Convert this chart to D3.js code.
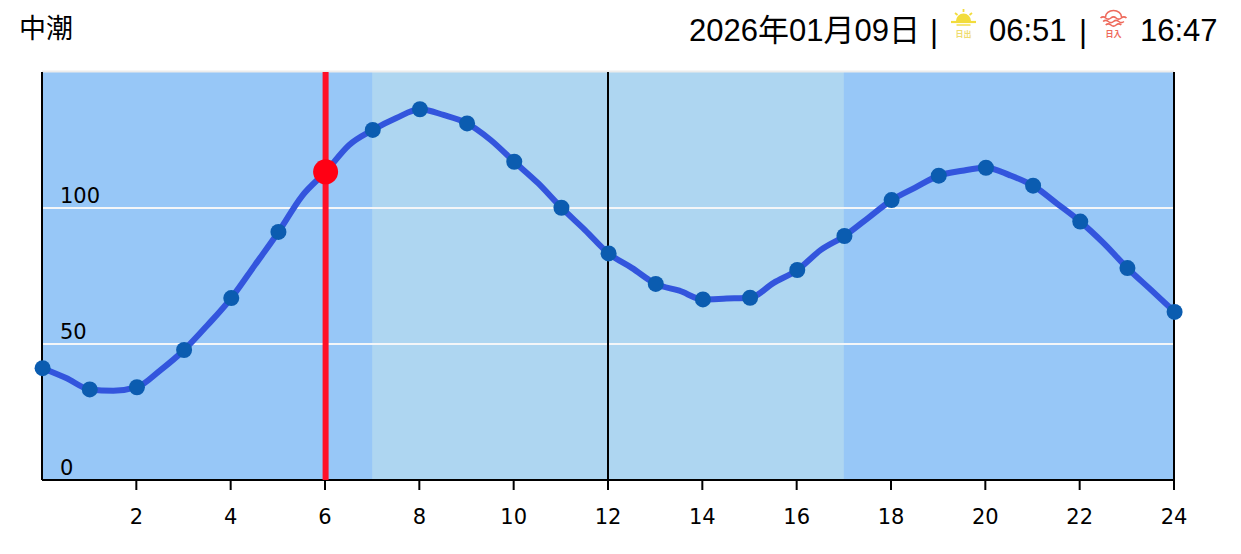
<!DOCTYPE html>
<html>
<head>
<meta charset="utf-8">
<script src="https://d3js.org/d3.v7.min.js"></script>
<style>
body { margin: 0; background: #fff; }
svg { display: block; }
.head { font-family: "Liberation Sans", "Noto Sans CJK JP", sans-serif; font-size: 31px; fill: #000; }
.tick text { font-family: "DejaVu Sans", sans-serif; font-size: 21px; fill: #000; }
</style>
</head>
<body>
<svg width="1241" height="554"></svg>
<script>
// half hour readings
var tideHours = [0,0.5,1,1.5,2,2.5,3,3.5,4,4.5,5,5.5,6,6.5,7,7.5,8,8.5,9,9.5,10,10.5,11,11.5,12,
  12.5,13,13.5,14,14.5,15,15.5,16,16.5,17,17.5,18,18.5,19,19.5,20,20.5,21,21.5,22,22.5,23,23.5,24];
var tideHeights = [41.1,37.5,33.3,32.8,34.1,40.4,47.8,57,66.9,79,91.2,104.4,113.3,123.2,128.7,133.1,136.3,134.2,131.1,125,117,109.2,100.1,91.9,83.3,
  77.9,72.1,69.6,66.4,66.7,67,72.5,77.2,84.6,89.7,96.3,102.9,107.5,111.9,113.7,114.8,112.1,108.2,101.7,95,87,77.9,69.9,61.8];
var xTicks = [2,4,6,8,10,12,14,16,18,20,22,24];
var yTicks = [0,50,100];
var dayStart = 7, dayEnd = 17;
var nowHour = 6, nowHeight = 113.3;
var tideName = "中潮";
var dateLabel = "2026年01月09日";
var sunrise = "06:51", sunset = "16:47";

var left = 42, right = 1174, top_ = 72, bottom = 480;
var svg = d3.select("svg");
var x = d3.scaleLinear().domain([0,24]).range([left,right]);
var y = d3.scaleLinear().domain([0,150]).range([bottom,top_]);

// background bands
svg.append("rect").attr("x",left).attr("y",top_).attr("width",right-left).attr("height",bottom-top_).attr("fill","#97c7f7");
svg.append("rect").attr("x",x(dayStart)).attr("y",top_).attr("width",x(dayEnd)-x(dayStart)).attr("height",bottom-top_).attr("fill","#aed6f1");
svg.append("line").attr("x1",left).attr("x2",right).attr("y1",top_-0.5).attr("y2",top_-0.5).attr("stroke","#ececec").attr("stroke-width",2);

// y grid, labels sit inside the plot above the line
var yAxis = svg.append("g").attr("transform","translate("+left+",0)")
  .call(d3.axisRight(y).tickValues(yTicks).tickSize(right-left).tickFormat(d3.format("d")).offset(0));
yAxis.select(".domain").remove();
yAxis.selectAll("line").attr("stroke","#f4f6f8").attr("stroke-width",2);
yAxis.selectAll("text").attr("x",18).attr("dy","-5px").attr("text-anchor","start");

// verticals
svg.selectAll(".vline").data([0,12,24]).enter().append("line").attr("class","vline")
  .attr("x1",function(d){return x(d);}).attr("x2",function(d){return x(d);})
  .attr("y1",top_).attr("y2",bottom).attr("stroke","#000").attr("stroke-width",2);

var xAxis = svg.append("g").attr("transform","translate(0,"+bottom+")")
  .call(d3.axisBottom(x).tickValues(xTicks).tickSize(10).tickSizeOuter(0).tickPadding(19).offset(0));
xAxis.select(".domain").attr("stroke","#000").attr("stroke-width",2);
xAxis.selectAll("line").attr("stroke","#000").attr("stroke-width",2);

var marks = svg.append("g").attr("transform","translate(0.6,0)");

// now marker line under tide
marks.append("line").attr("x1",x(nowHour)).attr("x2",x(nowHour)).attr("y1",top_).attr("y2",bottom)
  .attr("stroke","#ff1028").attr("stroke-width",6);

var line = d3.line().x(function(d,i){return x(tideHours[i]);}).y(function(d){return y(d);}).curve(d3.curveMonotoneX);
marks.append("path").datum(tideHeights).attr("d",line).attr("fill","none").attr("stroke","#3355dd").attr("stroke-width",6).attr("stroke-linejoin","round");

marks.selectAll(".dot").data(tideHeights.filter(function(d,i){return Number.isInteger(tideHours[i]);})).enter()
  .append("circle").attr("class","dot")
  .attr("cx",function(d,i){return x(i);}).attr("cy",function(d){return y(d);}).attr("r",8).attr("fill","#0b5cb0");

marks.append("circle").attr("cx",x(nowHour)).attr("cy",y(nowHeight)).attr("r",12.5).attr("fill","#ff0014");

// header
svg.append("text").attr("class","head").attr("x",19).attr("y",38).style("font-size","27px").text(tideName);
svg.append("text").attr("class","head").attr("x",689).attr("y",41).text(dateLabel);
svg.append("text").attr("class","head").attr("x",930).attr("y",42).text("|");
svg.append("text").attr("class","head").attr("x",989).attr("y",41).text(sunrise);
svg.append("text").attr("class","head").attr("x",1079).attr("y",42).text("|");
svg.append("text").attr("class","head").attr("x",1140).attr("y",41).text(sunset);

// sunrise icon
var sun = svg.append("g").attr("transform","translate(963.5,21)").attr("fill","#f2dc3c").attr("stroke","#f2dc3c");
sun.append("path").attr("stroke","none").attr("d",d3.arc()({innerRadius:0,outerRadius:7.5,startAngle:-Math.PI/2,endAngle:Math.PI/2}));
sun.append("line").attr("x1",-12.5).attr("x2",12.5).attr("y1",1).attr("y2",1).attr("stroke-width",2.2);
sun.append("line").attr("x1",-7).attr("x2",7).attr("y1",4).attr("y2",4).attr("stroke-width",1.4);
sun.append("line").attr("x1",0).attr("x2",0).attr("y1",-12).attr("y2",-9).attr("stroke-width",1.8);
sun.append("line").attr("x1",-8.5).attr("x2",-6).attr("y1",-8).attr("y2",-6).attr("stroke-width",1.8);
sun.append("line").attr("x1",8.5).attr("x2",6).attr("y1",-8).attr("y2",-6).attr("stroke-width",1.8);
svg.append("text").attr("x",963.5).attr("y",37).attr("text-anchor","middle").attr("fill","#efdc70")
  .style("font-family","'Noto Sans CJK JP'").style("font-size","8px").style("font-weight","700").text("日出");

// sunset icon
var dusk = svg.append("g").attr("transform","translate(1113.5,18)").attr("fill","none").attr("stroke","#ee6a5c").attr("stroke-width",1.6);
dusk.append("path").attr("d","M-8,-1A8,6.5 0 0 1 8,-1");
dusk.append("path").attr("d","M-13,0q2.6,-2.4 5.2,0t5.2,0t5.2,0t5.2,0t5.2,0");
dusk.append("path").attr("d","M-10.4,3.5q2.6,-2.4 5.2,0t5.2,0t5.2,0t5.2,0");
dusk.append("path").attr("d","M-7.8,7q2.6,-2.4 5.2,0t5.2,0t5.2,0");
svg.append("text").attr("x",1113.5).attr("y",37).attr("text-anchor","middle").attr("fill","#ee6a5c")
  .style("font-family","'Noto Sans CJK JP'").style("font-size","8px").style("font-weight","700").text("日入");
</script>
</body>
</html>
